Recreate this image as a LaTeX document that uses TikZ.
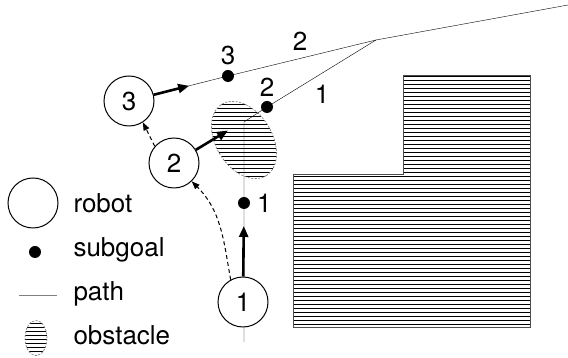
\documentclass[tikz,border=0pt]{standalone}
\usepackage{fontspec}
\setmainfont{TeX Gyre Heros}
\usetikzlibrary{arrows.meta,calc,backgrounds}

\begin{document}
\begin{tikzpicture}[x=1pt, y=1pt, line width=1pt,
  font=\fontsize{26pt}{30pt}\selectfont,
  robot/.style = {draw,circle,fill=white,minimum size=50pt,inner sep=0pt},
  goal/.style = {circle,fill,minimum size=12pt,inner sep=0pt},
  txt/.style = {inner sep=0pt,anchor=base west},
  lbl/.style = {inner sep=0pt},
  move/.style = {line width=2.6pt,-{Triangle[length=11pt,width=9pt]}},
  hop/.style = {dash pattern=on 4pt off 3pt,-{Triangle[length=8pt,width=6pt]}},
  hatch/.style = {line width=0.9pt},
  rim/.style = {gray,dash pattern=on 2pt off 1.5pt,line width=0.7pt}]
  \useasboundingbox (0,0) rectangle (568,358);

  % L-shaped wall
  \begin{scope}
    \clip (293,30) -- (530,30) -- (530,282) -- (403,282) -- (403,183) -- (293,183) -- cycle;
    \foreach \y in {30,34,...,282} \draw[hatch] (293,\y) -- (530,\y);
  \end{scope}
  \draw[black!70] (293,30) -- (530,30) -- (530,282) -- (403,282) -- (403,183) -- (293,183) -- cycle;

  % blob in front of robot 2
  \begin{scope}
    \clip[rotate around={-58:(244,218)}] (244,218) ellipse [x radius=42pt, y radius=28pt];
    \foreach \y in {174,178,...,262} \draw[hatch] (195,\y) -- (295,\y);
  \end{scope}
  \draw[rim, rotate around={-58:(244,218)}] (244,218) ellipse [x radius=42pt, y radius=28pt];

  % robots and subgoals
  \node[robot] (r1) at (243,56) {1};
  \node[robot] (r2) at (174,195) {2};
  \node[robot] (r3) at (129,257) {3};
  \node[goal, label={[lbl,label distance=6pt]right:1}] (g1) at (244,155) {};
  \node[goal, label={[lbl,label distance=3pt]above:2}] (g2) at (267,251) {};
  \node[goal, label={[lbl,label distance=4pt]above:3}] (g3) at (228,282) {};

  \coordinate (b) at (244,16);
  \coordinate (k) at (244,236);
  \coordinate (j) at (376,318);
  \coordinate (e) at (568,353);

  \begin{scope}[on background layer]
    \draw (b) -- (g1.center) -- (k) -- (g2.center) -- (j);
    \draw (r3.center) -- (g3.center) -- (j) -- (e);
  \end{scope}
  \node[lbl] (p2) at (300,317) {2};
  \node[lbl] (p1) at (322,264) {1};

  \draw[move] (r1) -- ($(r1)!76pt!(g1)$);
  \draw[move] (r2) -- ($(r2)!63pt!(g2)$);
  \draw[move] (r3) -- ($(r3)!62pt!(g3)$);
  \draw[hop] (r1.119) to [out=100,in=-45] (r2.-46);
  \draw[hop] (r2.139) -- (r3.-57);

  % legend
  \node[robot] (lr) at (33,155) {};
  \node[txt] (tr) at (73,145) {robot};
  \node[goal] (lg) at (35,106) {};
  \node[txt] (tg) at (73,101) {subgoal};
  \coordinate (la) at (19,62);
  \coordinate (lb) at (57,62);
  \draw[gray] (la) -- (lb);
  \node[txt] (tp) at (73,57) {path};
  \begin{scope}
    \clip (36,20) ellipse [x radius=11pt, y radius=17.5pt];
    \foreach \y in {3,7,...,39} \draw[hatch] (20,\y) -- (52,\y);
  \end{scope}
  \draw[rim] (36,20) ellipse [x radius=11pt, y radius=17.5pt];
  \node[txt] (to) at (73,13) {obstacle};
\end{tikzpicture}
\end{document}
